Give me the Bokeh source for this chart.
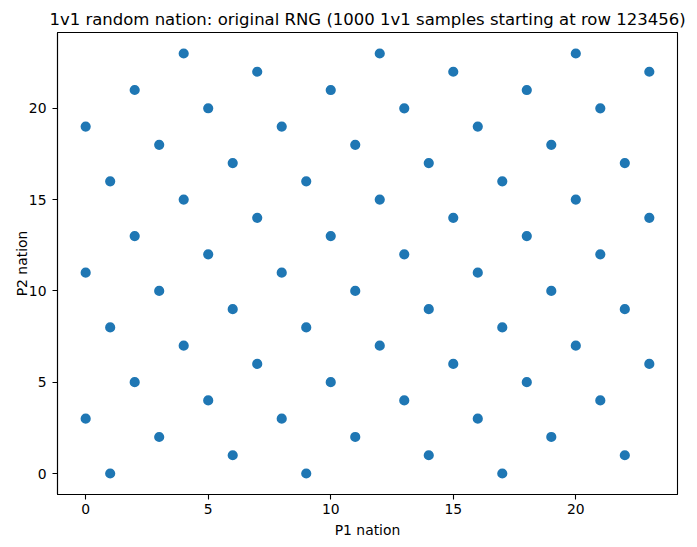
from bokeh.plotting import figure
from bokeh.models import FixedTicker, Range1d, ColumnDataSource
from bokeh.embed import file_html
from bokeh.resources import INLINE

# Unique (P1, P2) nation pairs observed in the 1000 samples
p1_nation = [0, 0, 0, 1, 1, 1, 2, 2, 2, 3, 3, 3, 4, 4, 4, 5, 5, 5,
             6, 6, 6, 7, 7, 7, 8, 8, 8, 9, 9, 9, 10, 10, 10, 11, 11, 11,
             12, 12, 12, 13, 13, 13, 14, 14, 14, 15, 15, 15, 16, 16, 16,
             17, 17, 17, 18, 18, 18, 19, 19, 19, 20, 20, 20, 21, 21, 21,
             22, 22, 22, 23, 23, 23]
p2_nation = [19, 11, 3, 16, 8, 0, 21, 13, 5, 18, 10, 2, 23, 15, 7, 20, 12, 4,
             17, 9, 1, 22, 14, 6, 19, 11, 3, 16, 8, 0, 21, 13, 5, 18, 10, 2,
             23, 15, 7, 20, 12, 4, 17, 9, 1, 22, 14, 6, 19, 11, 3,
             16, 8, 0, 21, 13, 5, 18, 10, 2, 23, 15, 7, 20, 12, 4,
             17, 9, 1, 22, 14, 6]

x_ticks = [0, 5, 10, 15, 20]
y_ticks = [0, 5, 10, 15, 20]

title_text = "1v1 random nation: original RNG (1000 1v1 samples starting at row 123456)"
x_label = "P1 nation"
y_label = "P2 nation"

FONT = "DejaVu Sans"
BLUE = "#1f77b4"

p = figure(width=697, height=547, output_backend="svg", toolbar_location=None,
           x_range=Range1d(-1.15, 24.15), y_range=Range1d(-1.15, 24.15),
           min_border_left=57, min_border_right=20, min_border_top=32,
           min_border_bottom=53)

p.title.text = title_text
p.title.text_font = FONT
p.title.text_font_size = "16.5px"
p.title.text_font_style = "normal"
p.title.align = "center"
p.title.text_color = "black"
p.title.standoff = 7

src = ColumnDataSource(dict(x=p1_nation, y=p2_nation))
p.scatter("x", "y", source=src, size=8.4, fill_color=BLUE, line_color=BLUE,
          line_width=1.8)

p.xgrid.visible = False
p.ygrid.visible = False
p.outline_line_color = "black"
p.outline_line_width = 1.1
p.outline_line_alpha = 1

for ax, ticks, lab in ((p.xaxis[0], x_ticks, x_label), (p.yaxis[0], y_ticks, y_label)):
    ax.ticker = FixedTicker(ticks=ticks)
    ax.axis_label = lab
    ax.axis_label_text_font = FONT
    ax.axis_label_text_font_size = "13.9px"
    ax.axis_label_text_font_style = "normal"
    ax.axis_label_text_color = "black"
    ax.major_label_text_font = FONT
    ax.major_label_text_font_size = "13.9px"
    ax.major_label_text_color = "black"
    ax.major_tick_out = 5
    ax.major_tick_in = 0
    ax.minor_tick_out = 0
    ax.minor_tick_in = 0
    ax.major_tick_line_width = 1.1
    ax.major_tick_line_color = "black"
    ax.axis_line_color = "black"
    ax.axis_line_width = 1.1

p.xaxis.major_label_standoff = 4
p.xaxis.axis_label_standoff = 5
p.yaxis.major_label_standoff = 6
p.yaxis.axis_label_standoff = -4

open("out.html", "w").write(file_html(p, INLINE))
